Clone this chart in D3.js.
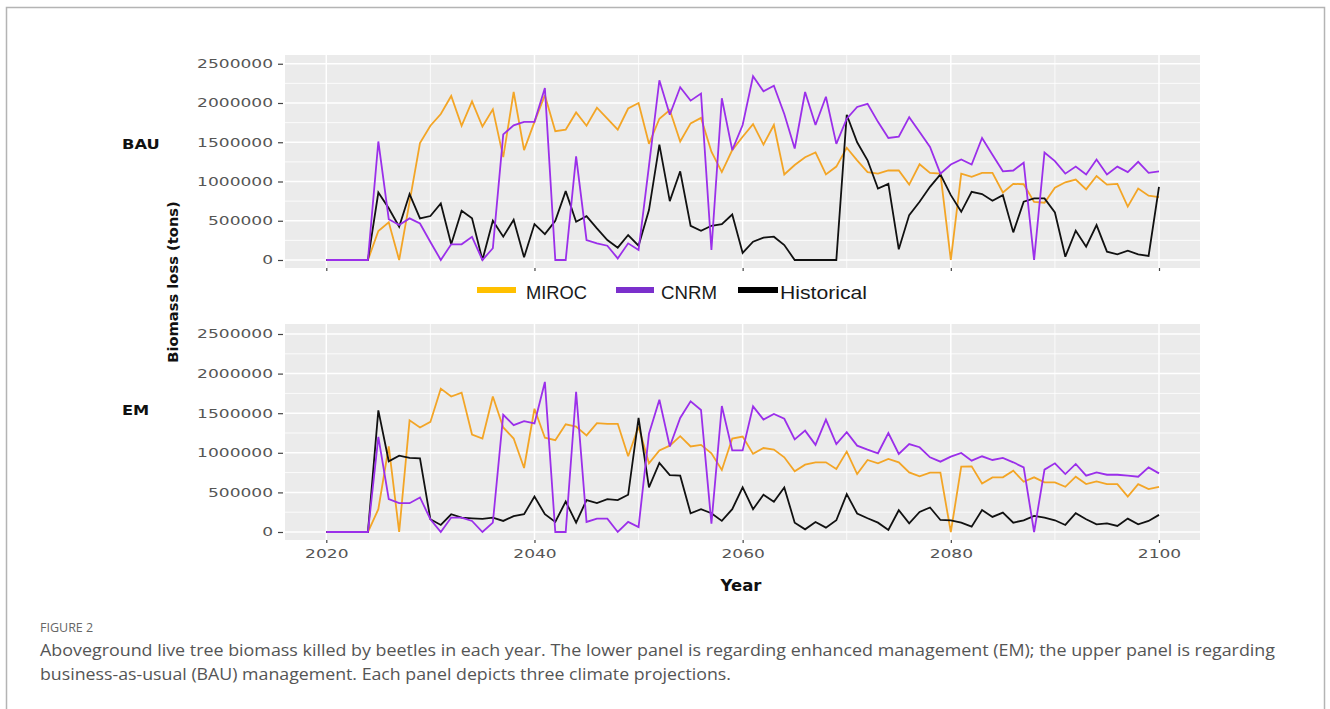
<!DOCTYPE html>
<html>
<head>
<meta charset="utf-8">
<script src="https://cdn.jsdelivr.net/npm/d3@7"></script>
<style>
  body { margin: 0; background: #ffffff; }
  svg { display: block; }
</style>
</head>
<body>
<svg id="chart" width="1330" height="709"></svg>
<script>
// Annual aboveground biomass loss to beetles (tons), 2020-2100
const years = d3.range(2020, 2101);

// Business-as-usual management
const bauMiroc = [
  0, 0, 0, 0, 0, 370000, 480000, 0, 740000, 1490000,
  1710000, 1860000, 2090000, 1710000, 2020000, 1700000, 1920000, 1310000, 2140000, 1400000,
  1760000, 2100000, 1640000, 1660000, 1880000, 1710000, 1940000, 1800000, 1660000, 1930000,
  2000000, 1480000, 1800000, 1910000, 1510000, 1740000, 1810000, 1380000, 1120000, 1400000,
  1570000, 1730000, 1470000, 1720000, 1090000, 1210000, 1310000, 1370000, 1090000, 1190000,
  1430000, 1270000, 1120000, 1100000, 1140000, 1140000, 960000, 1220000, 1110000, 1100000,
  0, 1100000, 1060000, 1110000, 1110000, 860000, 970000, 965000, 740000, 730000,
  920000, 990000, 1025000, 900000, 1070000, 960000, 970000, 680000, 910000, 820000,
  800000
];
const bauCnrm = [
  0, 0, 0, 0, 0, 1510000, 520000, 445000, 530000, 465000,
  230000, 0, 200000, 200000, 295000, 0, 150000, 1600000, 1715000, 1760000,
  1760000, 2190000, 0, 0, 1320000, 255000, 212000, 182000, 20000, 212000,
  127000, 1200000, 2290000, 1850000, 2200000, 2030000, 2120000, 127000, 2060000, 1400000,
  1720000, 2340000, 2150000, 2220000, 1860000, 1420000, 2140000, 1720000, 2080000, 1480000,
  1800000, 1950000, 1990000, 1760000, 1555000, 1570000, 1820000, 1630000, 1440000, 1100000,
  1216000, 1280000, 1216000, 1555000, 1340000, 1130000, 1140000, 1240000, 0, 1370000,
  1260000, 1100000, 1190000, 1090000, 1280000, 1090000, 1190000, 1120000, 1250000, 1110000,
  1130000
];
const bauHist = [
  0, 0, 0, 0, 0, 860000, 660000, 424000, 840000, 530000,
  560000, 720000, 200000, 627000, 530000, 0, 500000, 297000, 513000, 34000,
  458000, 330000, 500000, 877000, 487000, 559000, 403000, 254000, 157000, 318000,
  182000, 636000, 1470000, 750000, 1130000, 436000, 373000, 436000, 458000, 580000,
  90000, 233000, 284000, 297000, 190000, 0, 0, 0, 0, 0,
  1850000, 1500000, 1270000, 910000, 970000, 136000, 572000, 741000, 932000, 1090000,
  826000, 614000, 869000, 840000, 754000, 826000, 352000, 742000, 784000, 784000,
  606000, 42000, 373000, 170000, 445000, 106000, 72000, 119000, 72000, 51000,
  932000
];

// Enhanced management
const emMiroc = [
  0, 0, 0, 0, 0, 288000, 1080000, 0, 1410000, 1320000,
  1390000, 1810000, 1710000, 1760000, 1230000, 1180000, 1710000, 1320000, 1180000, 808000,
  1556000, 1190000, 1160000, 1360000, 1330000, 1220000, 1375000, 1366000, 1366000, 956000,
  1330000, 867000, 1030000, 1090000, 1210000, 1080000, 1100000, 994000, 783000, 1180000,
  1205000, 986000, 1060000, 1040000, 943000, 766000, 850000, 880000, 880000, 795000,
  1015000, 732000, 909000, 867000, 922000, 880000, 753000, 702000, 749000, 749000,
  0, 825000, 829000, 613000, 690000, 690000, 774000, 634000, 690000, 626000,
  626000, 571000, 698000, 605000, 639000, 605000, 605000, 448000, 605000, 541000,
  571000
];
const emCnrm = [
  0, 0, 0, 0, 0, 1200000, 415000, 364000, 364000, 436000,
  161000, 0, 182000, 182000, 140000, 0, 118000, 1480000, 1350000, 1400000,
  1370000, 1895000, 0, 0, 1770000, 127000, 169000, 169000, 0, 127000,
  63000, 1240000, 1670000, 1080000, 1440000, 1650000, 1540000, 106000, 1590000, 1030000,
  1030000, 1586000, 1420000, 1490000, 1430000, 1170000, 1280000, 1100000, 1420000, 1110000,
  1260000, 1090000, 1040000, 994000, 1250000, 986000, 1110000, 1070000, 943000, 888000,
  952000, 998000, 901000, 956000, 909000, 935000, 880000, 816000, 0, 787000,
  867000, 732000, 859000, 711000, 753000, 723000, 723000, 711000, 698000, 816000,
  740000
];
const emHist = [
  0, 0, 0, 0, 0, 1535000, 893000, 964000, 935000, 930000,
  161000, 89000, 224000, 182000, 173000, 165000, 182000, 140000, 200000, 224000,
  448000, 224000, 127000, 385000, 118000, 402000, 364000, 415000, 402000, 470000,
  1440000, 563000, 871000, 719000, 711000, 237000, 288000, 237000, 140000, 288000,
  563000, 288000, 470000, 381000, 563000, 118000, 34000, 127000, 55000, 148000,
  478000, 233000, 173000, 118000, 25000, 275000, 110000, 254000, 309000, 152000,
  148000, 118000, 68000, 279000, 190000, 245000, 118000, 148000, 203000, 182000,
  148000, 89000, 237000, 161000, 97000, 110000, 76000, 169000, 97000, 140000,
  216000
];

const seriesNames = ["MIROC", "CNRM", "Historical"];
const panelNames = ["BAU", "EM"];
const xTicks = [2020, 2040, 2060, 2080, 2100];
const xMinor = [2030, 2050, 2070, 2090];
const yTicks = [0, 500000, 1000000, 1500000, 2000000, 2500000];
const yMinor = [250000, 750000, 1250000, 1750000, 2250000];

const lineColors = { MIROC: "#F3A526", CNRM: "#9B2FEA", Historical: "#111111" };
const keyColors = { MIROC: "#FFC000", CNRM: "#7B30CC", Historical: "#000000" };
const drawOrder = ["MIROC", "Historical", "CNRM"];

const svg = d3.select("#chart");

// widen glyphs of a text selection by factor k
function stretch(sel, k) {
  sel.each(function () {
    const w = this.getComputedTextLength();
    this.setAttribute("textLength", w * k);
    this.setAttribute("lengthAdjust", "spacingAndGlyphs");
  });
}
function fitWidth(sel, w) {
  sel.attr("textLength", w).attr("lengthAdjust", "spacingAndGlyphs");
}

// figure frame
svg.append("rect")
  .attr("x", 6.5).attr("y", 7.5)
  .attr("width", 1318).attr("height", 740)
  .attr("fill", "none").attr("stroke", "#b4b4b4").attr("stroke-width", 1.5);

const panelLeft = 285, panelRight = 1200;
const x = d3.scaleLinear().domain([2020, 2100]).range([326.3, 1159]);

const panels = [
  { name: panelNames[0], top: 55, bottom: 268, zeroY: 260, topY: 63.75, labelY: 149,
    series: { MIROC: bauMiroc, CNRM: bauCnrm, Historical: bauHist }, showX: false },
  { name: panelNames[1], top: 324, bottom: 540, zeroY: 532, topY: 334, labelY: 415,
    series: { MIROC: emMiroc, CNRM: emCnrm, Historical: emHist }, showX: true }
];

const tickFont = "'DejaVu Sans', sans-serif";

panels.forEach(p => {
  const y = d3.scaleLinear().domain([0, 2500000]).range([p.zeroY, p.topY]);
  const g = svg.append("g");

  g.append("rect")
    .attr("x", panelLeft).attr("y", p.top)
    .attr("width", panelRight - panelLeft).attr("height", p.bottom - p.top)
    .attr("fill", "#EBEBEB");

  // grid
  g.selectAll(".hmin").data(yMinor).join("line")
    .attr("x1", panelLeft).attr("x2", panelRight)
    .attr("y1", d => y(d)).attr("y2", d => y(d))
    .attr("stroke", "#ffffff").attr("stroke-width", 0.8);
  g.selectAll(".vmin").data(xMinor).join("line")
    .attr("y1", p.top).attr("y2", p.bottom)
    .attr("x1", d => x(d)).attr("x2", d => x(d))
    .attr("stroke", "#ffffff").attr("stroke-width", 0.8);
  g.selectAll(".hmaj").data(yTicks).join("line")
    .attr("x1", panelLeft).attr("x2", panelRight)
    .attr("y1", d => y(d)).attr("y2", d => y(d))
    .attr("stroke", "#ffffff").attr("stroke-width", 1.5);
  g.selectAll(".vmaj").data(xTicks).join("line")
    .attr("y1", p.top).attr("y2", p.bottom)
    .attr("x1", d => x(d)).attr("x2", d => x(d))
    .attr("stroke", "#ffffff").attr("stroke-width", 1.5);

  // y axis
  const ya = g.append("g")
    .attr("transform", `translate(${panelLeft - 2},0)`)
    .call(d3.axisLeft(y).tickValues(yTicks).tickSize(5).tickPadding(5).tickFormat(d3.format("d")));
  ya.select(".domain").remove();
  ya.selectAll(".tick line").attr("stroke", "#444").attr("stroke-width", 1.2);
  ya.selectAll(".tick text")
    .attr("fill", "#555").style("font-family", tickFont).style("font-size", "12px");
  stretch(ya.selectAll(".tick text"), 1.42);

  // x axis ticks
  const xa = g.append("g")
    .attr("transform", `translate(0,${p.bottom})`)
    .call(d3.axisBottom(x).tickValues(xTicks).tickSize(3).tickPadding(6).tickFormat(d3.format("d")));
  xa.select(".domain").remove();
  xa.selectAll(".tick line").attr("stroke", "#444").attr("stroke-width", 1.2);
  if (p.showX) {
    xa.selectAll(".tick text")
      .attr("fill", "#555").style("font-family", tickFont).style("font-size", "12px");
    stretch(xa.selectAll(".tick text"), 1.42);
  } else {
    xa.selectAll(".tick text").remove();
  }

  // series lines
  const line = d3.line().x((d, i) => x(years[i])).y(d => y(d));
  drawOrder.forEach(name => {
    g.append("path")
      .datum(p.series[name])
      .attr("d", line)
      .attr("fill", "none")
      .attr("stroke", lineColors[name])
      .attr("stroke-width", 1.8)
      .attr("stroke-linejoin", "miter")
      .attr("stroke-miterlimit", 3);
  });

  // panel label
  const lab = svg.append("text")
    .attr("x", 122).attr("y", p.labelY)
    .attr("fill", "#111")
    .style("font-family", tickFont).style("font-weight", "bold").style("font-size", "14px")
    .text(p.name);
  stretch(lab, 1.16);
});

// y axis title
svg.append("text")
  .attr("transform", "translate(178,282) rotate(-90)")
  .attr("text-anchor", "middle")
  .attr("fill", "#111")
  .style("font-family", tickFont).style("font-weight", "bold").style("font-size", "14.7px")
  .text("Biomass loss (tons)");

// x axis title
svg.append("text")
  .attr("x", 741).attr("y", 591)
  .attr("text-anchor", "middle")
  .attr("fill", "#111")
  .style("font-family", tickFont).style("font-weight", "bold").style("font-size", "16.5px")
  .text("Year");

// legend
const legendX = { MIROC: 477, CNRM: 616, Historical: 738 };
const keyW = { MIROC: 39, CNRM: 38, Historical: 40 };
const labelX = { MIROC: 526, CNRM: 661, Historical: 780 };
const labelW = { MIROC: 61, CNRM: 56, Historical: 87 };
seriesNames.forEach(name => {
  svg.append("rect")
    .attr("x", legendX[name]).attr("y", 287)
    .attr("width", keyW[name]).attr("height", 6)
    .attr("fill", keyColors[name]);
  const t = svg.append("text")
    .attr("x", labelX[name]).attr("y", 298.5)
    .attr("fill", "#1a1a1a")
    .style("font-family", "'Liberation Sans', Arial, sans-serif").style("font-size", "17.5px")
    .text(name);
  fitWidth(t, labelW[name]);
});

// caption
svg.append("text")
  .attr("x", 40).attr("y", 632)
  .attr("fill", "#666")
  .style("font-family", "'Open Sans', sans-serif").style("font-size", "12.5px")
  .text("FIGURE 2");
const cap1 = svg.append("text")
  .attr("x", 40).attr("y", 656)
  .attr("fill", "#555")
  .style("font-family", "'Open Sans', sans-serif").style("font-size", "16.5px")
  .text("Aboveground live tree biomass killed by beetles in each year. The lower panel is regarding enhanced management (EM); the upper panel is regarding");
fitWidth(cap1, 1235);
const cap2 = svg.append("text")
  .attr("x", 40).attr("y", 680)
  .attr("fill", "#555")
  .style("font-family", "'Open Sans', sans-serif").style("font-size", "16.5px")
  .text("business-as-usual (BAU) management. Each panel depicts three climate projections.");
fitWidth(cap2, 691);
</script>
</body>
</html>
